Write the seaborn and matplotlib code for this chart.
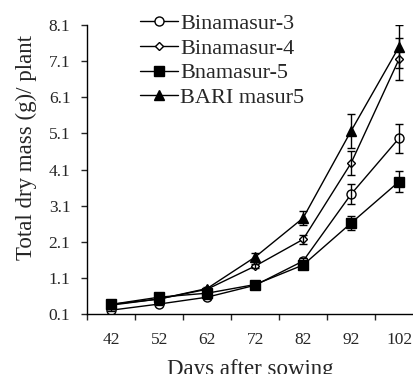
import numpy as np
import pandas as pd
import matplotlib
matplotlib.use('Agg')
import matplotlib.pyplot as plt
import seaborn as sns

# days after sowing
days = [42, 52, 62, 72, 82, 92, 102]

# total dry mass (g) per plant
binamasur3 = [0.21, 0.38, 0.57, 0.90, 1.57, 3.42, 4.97]
binamasur4 = [0.35, 0.52, 0.79, 1.43, 2.17, 4.28, 7.16]
bnamasur5 = [0.37, 0.57, 0.68, 0.92, 1.46, 2.62, 3.77]
bari_masur5 = [0.37, 0.52, 0.81, 1.68, 2.76, 5.17, 7.50]

# error bar half-lengths
err3 = [0.03, 0.03, 0.04, 0.05, 0.08, 0.28, 0.40]
err4 = [0.03, 0.03, 0.04, 0.06, 0.13, 0.34, 0.58]
err5 = [0.03, 0.03, 0.04, 0.05, 0.06, 0.20, 0.30]
err_bari = [0.03, 0.03, 0.05, 0.10, 0.20, 0.46, 0.60]

series = ['Binamasur-3', 'Binamasur-4', 'Bnamasur-5', 'BARI masur5']
values = [binamasur3, binamasur4, bnamasur5, bari_masur5]
errors = [err3, err4, err5, err_bari]
markers = ['o', 'D', 's', '^']
faces = ['white', 'white', 'black', 'black']
msizes = [6.5, 4.5, 6.5, 6.5]

sns.set_style('ticks')
plt.rcParams['font.family'] = ['Liberation Serif', 'DejaVu Serif']

fig = plt.figure(figsize=(4.13, 3.74), dpi=100)
ax = fig.add_axes([0.211, 0.160, 0.789, 0.773])

for name, vals, err, m, fc, ms in zip(series, values, errors, markers, faces, msizes):
    df = pd.DataFrame({'day': days, 'mass': vals})
    sns.lineplot(data=df, x='day', y='mass', ax=ax, color='black', lw=1,
                 marker=m, markersize=ms, markerfacecolor=fc,
                 markeredgecolor='black', markeredgewidth=1, label=name)
    ax.errorbar(days, vals, yerr=err, fmt='none', ecolor='black',
                elinewidth=1, capsize=3, capthick=1)

ax.set_xlim(37, 104.9)
ax.set_ylim(0.1, 8.1)
ax.set_yticks(np.arange(0.1, 8.2, 1.0))
ax.set_yticklabels([f'{v:.1f}' for v in np.arange(0.1, 8.2, 1.0)])
ax.set_xticks(days)
ax.set_xticklabels([str(d) for d in days])
ax.set_xticks([d - 5 for d in days], minor=True)
ax.tick_params(axis='x', which='major', length=0, pad=13, labelsize=12.5)
ax.tick_params(axis='x', which='minor', length=4, width=1, direction='out')
ax.tick_params(axis='y', length=4, width=1, direction='out', pad=8, labelsize=12.5)
for s in ['left', 'bottom']:
    ax.spines[s].set_linewidth(1)
    ax.spines[s].set_color('black')
sns.despine(ax=ax)

ax.set_xlabel('Days after sowing', fontsize=16.5, labelpad=8)
ax.set_ylabel('Total dry mass (g)/ plant', fontsize=16.5)
ax.yaxis.set_label_coords(-0.155, 0.578)

ax.legend(loc='upper left', bbox_to_anchor=(0.135, 1.07), frameon=False,
          fontsize=16, handlelength=1.7, handletextpad=0.1,
          labelspacing=0.18, borderaxespad=0)

fig.savefig('out.png', dpi=100)
